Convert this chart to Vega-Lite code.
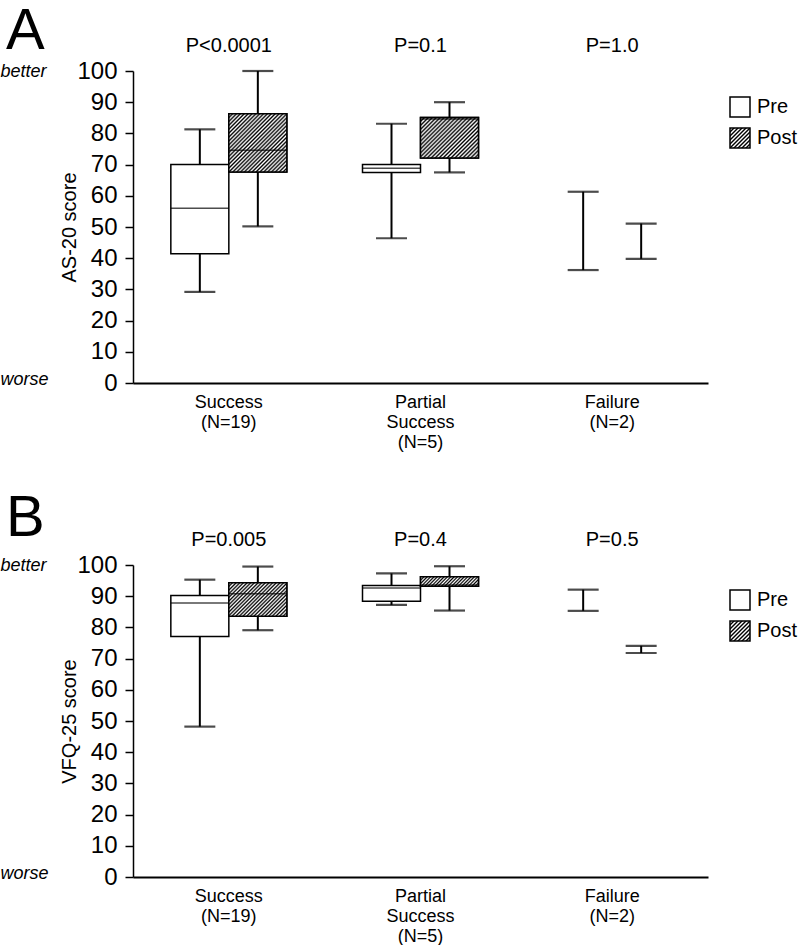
{
"$schema": "https://vega.github.io/schema/vega-lite/v6.json",
"padding": {"top": 2, "left": 0, "right": 0, "bottom": 0},
"background": "white",
"datasets": {
"a": [
{"group":"Success","phase":"Pre","low":29.2,"q1":41.4,"median":56,"q3":70,"high":81.3},
{"group":"Success","phase":"Post","low":50.2,"q1":67.6,"median":74.6,"q3":86.3,"high":100},
{"group":"Partial Success","phase":"Pre","low":46.4,"q1":67.5,"median":68.8,"q3":70.0,"high":83.1},
{"group":"Partial Success","phase":"Post","low":67.5,"q1":72.1,"median":84.6,"q3":85.1,"high":90},
{"group":"Failure","phase":"Pre","low":36.2,"q1":null,"median":null,"q3":null,"high":61.3},
{"group":"Failure","phase":"Post","low":39.8,"q1":null,"median":null,"q3":null,"high":51.1}
],
"b": [
{"group":"Success","phase":"Pre","low":48.2,"q1":77.1,"median":87.8,"q3":90.2,"high":95.3},
{"group":"Success","phase":"Post","low":79.1,"q1":83.6,"median":90.8,"q3":94.3,"high":99.5},
{"group":"Partial Success","phase":"Pre","low":87.2,"q1":88.4,"median":92.6,"q3":93.4,"high":97.3},
{"group":"Partial Success","phase":"Post","low":85.4,"q1":93.2,"median":93.6,"q3":96.2,"high":99.6},
{"group":"Failure","phase":"Pre","low":85.3,"q1":null,"median":null,"q3":null,"high":92.1},
{"group":"Failure","phase":"Post","low":71.8,"q1":null,"median":null,"q3":null,"high":74.1}
],
"pa": [{"group":"Success","p":"P<0.0001"},{"group":"Partial Success","p":"P=0.1"},{"group":"Failure","p":"P=1.0"}],
"pb": [{"group":"Success","p":"P=0.005"},{"group":"Partial Success","p":"P=0.4"},{"group":"Failure","p":"P=0.5"}]
},
"vconcat": [
{
"width": 575, "height": 312,
"title": {"text":"A","fontSize":58,"fontWeight":"normal","anchor":"start","frame":"bounds","dx":6,"offset":-25,"color":"black","font":"Liberation Sans"},
"encoding": {"x": {"field":"group","type":"nominal","scale":{"domain":["Success","Partial Success","Failure"],"paddingInner":0,"paddingOuter":0},
 "axis":{"title":null,"ticks":false,"labelAngle":0,"labelFontSize":18,"labelLineHeight":20,"labelPadding":10,"domainWidth":2,"labelExpr":"datum.value === 'Success' ? ['Success','(N=19)'] : datum.value === 'Partial Success' ? ['Partial','Success','(N=5)'] : ['Failure','(N=2)']"}}},
"layer": [
{"data":{"name":"a"},
 "encoding": {"xOffset": {"field":"phase","type":"nominal","scale":{"domain":["Pre","Post"],"paddingInner":0,"paddingOuter":0.6523}}},
 "layer": [
  {"mark":{"type":"rule","color":"black","strokeWidth":2},
   "encoding":{"y":{"field":"low","type":"quantitative","title":"AS-20 score","scale":{"domain":[0,100],"nice":false},
     "axis":{"orient":"left","values":[0,10,20,30,40,50,60,70,80,90,100],"tickCount":12,"labelOverlap":false,"labelFontSize":24,"tickSize":8,"tickWidth":1.5,"domainWidth":1.5,"labelPadding":8,"titleFontSize":20,"titlePadding":-3,"grid":false}},
     "y2":{"field":"high"}}},
  {"mark":{"type":"tick","color":"black","size":31,"thickness":2.2},
   "encoding":{"y":{"field":"low","type":"quantitative","title":"AS-20 score","scale":{"domain":[0,100],"nice":false}}}},
  {"mark":{"type":"tick","color":"black","size":31,"thickness":2.2},
   "encoding":{"y":{"field":"high","type":"quantitative","title":"AS-20 score","scale":{"domain":[0,100],"nice":false}}}},
  {"mark":{"type":"bar","stroke":"black","strokeWidth":1.5},
   "encoding":{"y":{"field":"q1","type":"quantitative","title":"AS-20 score","scale":{"domain":[0,100],"nice":false}},"y2":{"field":"q3"},
    "fill":{"field":"phase","type":"nominal","scale":{"domain":["Pre","Post"],"range":["white",{"expr":"{gradient: 'linear', x1: 0, y1: 0, x2: 1, y2: 1, stops: [{offset: 0, color: '#000'}, {offset: 0.05, color: '#fff'}, {offset: 0.1, color: '#000'}, {offset: 0.15, color: '#fff'}, {offset: 0.2, color: '#000'}, {offset: 0.25, color: '#fff'}, {offset: 0.3, color: '#000'}, {offset: 0.35, color: '#fff'}, {offset: 0.4, color: '#000'}, {offset: 0.45, color: '#fff'}, {offset: 0.5, color: '#000'}, {offset: 0.55, color: '#fff'}, {offset: 0.6, color: '#000'}, {offset: 0.65, color: '#fff'}, {offset: 0.7, color: '#000'}, {offset: 0.75, color: '#fff'}, {offset: 0.8, color: '#000'}, {offset: 0.85, color: '#fff'}, {offset: 0.9, color: '#000'}, {offset: 0.95, color: '#fff'}, {offset: 1, color: '#000'}]}"}]},
     "legend":{"title":null,"orient":"none","legendX":596,"legendY":25,"symbolType":"square","symbolSize":400,"symbolStrokeColor":"black","symbolStrokeWidth":1.5,"symbolOpacity":1,"labelFontSize":20,"labelColor":"black","labelOffset":6,"rowPadding":5,"labelFont":"Liberation Sans"}}}},
  {"transform":[{"filter":"datum.group === 'Success' && datum.phase === 'Post'"}],
   "mark":{"type":"bar","stroke":"black","strokeWidth":1.5,"fill":{"gradient":"linear","x1":0,"y1":0,"x2":1,"y2":1,"stops":[{"offset":0,"color":"#000"},{"offset":0.0167,"color":"#fff"},{"offset":0.0333,"color":"#000"},{"offset":0.05,"color":"#fff"},{"offset":0.0667,"color":"#000"},{"offset":0.0833,"color":"#fff"},{"offset":0.1,"color":"#000"},{"offset":0.1167,"color":"#fff"},{"offset":0.1333,"color":"#000"},{"offset":0.15,"color":"#fff"},{"offset":0.1667,"color":"#000"},{"offset":0.1833,"color":"#fff"},{"offset":0.2,"color":"#000"},{"offset":0.2167,"color":"#fff"},{"offset":0.2333,"color":"#000"},{"offset":0.25,"color":"#fff"},{"offset":0.2667,"color":"#000"},{"offset":0.2833,"color":"#fff"},{"offset":0.3,"color":"#000"},{"offset":0.3167,"color":"#fff"},{"offset":0.3333,"color":"#000"},{"offset":0.35,"color":"#fff"},{"offset":0.3667,"color":"#000"},{"offset":0.3833,"color":"#fff"},{"offset":0.4,"color":"#000"},{"offset":0.4167,"color":"#fff"},{"offset":0.4333,"color":"#000"},{"offset":0.45,"color":"#fff"},{"offset":0.4667,"color":"#000"},{"offset":0.4833,"color":"#fff"},{"offset":0.5,"color":"#000"},{"offset":0.5167,"color":"#fff"},{"offset":0.5333,"color":"#000"},{"offset":0.55,"color":"#fff"},{"offset":0.5667,"color":"#000"},{"offset":0.5833,"color":"#fff"},{"offset":0.6,"color":"#000"},{"offset":0.6167,"color":"#fff"},{"offset":0.6333,"color":"#000"},{"offset":0.65,"color":"#fff"},{"offset":0.6667,"color":"#000"},{"offset":0.6833,"color":"#fff"},{"offset":0.7,"color":"#000"},{"offset":0.7167,"color":"#fff"},{"offset":0.7333,"color":"#000"},{"offset":0.75,"color":"#fff"},{"offset":0.7667,"color":"#000"},{"offset":0.7833,"color":"#fff"},{"offset":0.8,"color":"#000"},{"offset":0.8167,"color":"#fff"},{"offset":0.8333,"color":"#000"},{"offset":0.85,"color":"#fff"},{"offset":0.8667,"color":"#000"},{"offset":0.8833,"color":"#fff"},{"offset":0.9,"color":"#000"},{"offset":0.9167,"color":"#fff"},{"offset":0.9333,"color":"#000"},{"offset":0.95,"color":"#fff"},{"offset":0.9667,"color":"#000"},{"offset":0.9833,"color":"#fff"},{"offset":1,"color":"#000"}]}},
   "encoding":{"y":{"field":"q1","type":"quantitative","title":"AS-20 score","scale":{"domain":[0,100],"nice":false}},"y2":{"field":"q3"}}},
  {"transform":[{"filter":"datum.group === 'Partial Success' && datum.phase === 'Post'"}],
   "mark":{"type":"bar","stroke":"black","strokeWidth":1.5,"fill":{"gradient":"linear","x1":0,"y1":0,"x2":1.141,"y2":0.799,"stops":[{"offset":0,"color":"#000"},{"offset":0.02,"color":"#fff"},{"offset":0.04,"color":"#000"},{"offset":0.06,"color":"#fff"},{"offset":0.08,"color":"#000"},{"offset":0.1,"color":"#fff"},{"offset":0.12,"color":"#000"},{"offset":0.14,"color":"#fff"},{"offset":0.16,"color":"#000"},{"offset":0.18,"color":"#fff"},{"offset":0.2,"color":"#000"},{"offset":0.22,"color":"#fff"},{"offset":0.24,"color":"#000"},{"offset":0.26,"color":"#fff"},{"offset":0.28,"color":"#000"},{"offset":0.3,"color":"#fff"},{"offset":0.32,"color":"#000"},{"offset":0.34,"color":"#fff"},{"offset":0.36,"color":"#000"},{"offset":0.38,"color":"#fff"},{"offset":0.4,"color":"#000"},{"offset":0.42,"color":"#fff"},{"offset":0.44,"color":"#000"},{"offset":0.46,"color":"#fff"},{"offset":0.48,"color":"#000"},{"offset":0.5,"color":"#fff"},{"offset":0.52,"color":"#000"},{"offset":0.54,"color":"#fff"},{"offset":0.56,"color":"#000"},{"offset":0.58,"color":"#fff"},{"offset":0.6,"color":"#000"},{"offset":0.62,"color":"#fff"},{"offset":0.64,"color":"#000"},{"offset":0.66,"color":"#fff"},{"offset":0.68,"color":"#000"},{"offset":0.7,"color":"#fff"},{"offset":0.72,"color":"#000"},{"offset":0.74,"color":"#fff"},{"offset":0.76,"color":"#000"},{"offset":0.78,"color":"#fff"},{"offset":0.8,"color":"#000"},{"offset":0.82,"color":"#fff"},{"offset":0.84,"color":"#000"},{"offset":0.86,"color":"#fff"},{"offset":0.88,"color":"#000"},{"offset":0.9,"color":"#fff"},{"offset":0.92,"color":"#000"},{"offset":0.94,"color":"#fff"},{"offset":0.96,"color":"#000"},{"offset":0.98,"color":"#fff"},{"offset":1,"color":"#000"}]}},
   "encoding":{"y":{"field":"q1","type":"quantitative","title":"AS-20 score","scale":{"domain":[0,100],"nice":false}},"y2":{"field":"q3"}}},
  {"mark":{"type":"tick","color":"black","size":58,"thickness":1.5},
   "encoding":{"y":{"field":"median","type":"quantitative","title":"AS-20 score","scale":{"domain":[0,100],"nice":false}}}}
 ]},
{"data":{"name":"pa"},
 "mark":{"type":"text","fontSize":20,"baseline":"alphabetic","color":"black","font":"Liberation Sans"},
 "encoding":{"text":{"field":"p"},
  "y":{"datum":106.2,"type":"quantitative","scale":{"domain":[0,100],"nice":false},
   "axis":{"orient":"left","offset":133,"values":[1.2,100],"labelExpr":"datum.value > 50 ? 'better' : 'worse'","labelFontStyle":"italic","labelFontSize":18,"labelAlign":"left","labelBaseline":"middle","domain":false,"ticks":false,"tickSize":0,"labelPadding":0,"title":null,"grid":false}}}}
],
"resolve": {"scale": {"y": "independent"}}
},
{
"width": 575, "height": 312,
"title": {"text":"B","fontSize":58,"fontWeight":"normal","anchor":"start","frame":"bounds","dx":6,"offset":-18,"color":"black","font":"Liberation Sans"},
"encoding": {"x": {"field":"group","type":"nominal","scale":{"domain":["Success","Partial Success","Failure"],"paddingInner":0,"paddingOuter":0},
 "axis":{"title":null,"ticks":false,"labelAngle":0,"labelFontSize":18,"labelLineHeight":20,"labelPadding":10,"domainWidth":2,"labelExpr":"datum.value === 'Success' ? ['Success','(N=19)'] : datum.value === 'Partial Success' ? ['Partial','Success','(N=5)'] : ['Failure','(N=2)']"}}},
"layer": [
{"data":{"name":"b"},
 "encoding": {"xOffset": {"field":"phase","type":"nominal","scale":{"domain":["Pre","Post"],"paddingInner":0,"paddingOuter":0.6523}}},
 "layer": [
  {"mark":{"type":"rule","color":"black","strokeWidth":2},
   "encoding":{"y":{"field":"low","type":"quantitative","title":"VFQ-25 score","scale":{"domain":[0,100],"nice":false},
     "axis":{"orient":"left","values":[0,10,20,30,40,50,60,70,80,90,100],"tickCount":12,"labelOverlap":false,"labelFontSize":24,"tickSize":8,"tickWidth":1.5,"domainWidth":1.5,"labelPadding":8,"titleFontSize":20,"titlePadding":-3,"grid":false}},
     "y2":{"field":"high"}}},
  {"mark":{"type":"tick","color":"black","size":31,"thickness":2.2},
   "encoding":{"y":{"field":"low","type":"quantitative","title":"VFQ-25 score","scale":{"domain":[0,100],"nice":false}}}},
  {"mark":{"type":"tick","color":"black","size":31,"thickness":2.2},
   "encoding":{"y":{"field":"high","type":"quantitative","title":"VFQ-25 score","scale":{"domain":[0,100],"nice":false}}}},
  {"mark":{"type":"bar","stroke":"black","strokeWidth":1.5},
   "encoding":{"y":{"field":"q1","type":"quantitative","title":"VFQ-25 score","scale":{"domain":[0,100],"nice":false}},"y2":{"field":"q3"},
    "fill":{"field":"phase","type":"nominal","scale":{"domain":["Pre","Post"],"range":["white",{"expr":"{gradient: 'linear', x1: 0, y1: 0, x2: 1, y2: 1, stops: [{offset: 0, color: '#000'}, {offset: 0.05, color: '#fff'}, {offset: 0.1, color: '#000'}, {offset: 0.15, color: '#fff'}, {offset: 0.2, color: '#000'}, {offset: 0.25, color: '#fff'}, {offset: 0.3, color: '#000'}, {offset: 0.35, color: '#fff'}, {offset: 0.4, color: '#000'}, {offset: 0.45, color: '#fff'}, {offset: 0.5, color: '#000'}, {offset: 0.55, color: '#fff'}, {offset: 0.6, color: '#000'}, {offset: 0.65, color: '#fff'}, {offset: 0.7, color: '#000'}, {offset: 0.75, color: '#fff'}, {offset: 0.8, color: '#000'}, {offset: 0.85, color: '#fff'}, {offset: 0.9, color: '#000'}, {offset: 0.95, color: '#fff'}, {offset: 1, color: '#000'}]}"}]},
     "legend":{"title":null,"orient":"none","legendX":596,"legendY":24,"symbolType":"square","symbolSize":400,"symbolStrokeColor":"black","symbolStrokeWidth":1.5,"symbolOpacity":1,"labelFontSize":20,"labelColor":"black","labelOffset":6,"rowPadding":5,"labelFont":"Liberation Sans"}}}},
  {"transform":[{"filter":"datum.group === 'Success' && datum.phase === 'Post'"}],
   "mark":{"type":"bar","stroke":"black","strokeWidth":1.5,"fill":{"gradient":"linear","x1":0,"y1":0,"x2":1.184,"y2":0.68,"stops":[{"offset":0,"color":"#000"},{"offset":0.02,"color":"#fff"},{"offset":0.04,"color":"#000"},{"offset":0.06,"color":"#fff"},{"offset":0.08,"color":"#000"},{"offset":0.1,"color":"#fff"},{"offset":0.12,"color":"#000"},{"offset":0.14,"color":"#fff"},{"offset":0.16,"color":"#000"},{"offset":0.18,"color":"#fff"},{"offset":0.2,"color":"#000"},{"offset":0.22,"color":"#fff"},{"offset":0.24,"color":"#000"},{"offset":0.26,"color":"#fff"},{"offset":0.28,"color":"#000"},{"offset":0.3,"color":"#fff"},{"offset":0.32,"color":"#000"},{"offset":0.34,"color":"#fff"},{"offset":0.36,"color":"#000"},{"offset":0.38,"color":"#fff"},{"offset":0.4,"color":"#000"},{"offset":0.42,"color":"#fff"},{"offset":0.44,"color":"#000"},{"offset":0.46,"color":"#fff"},{"offset":0.48,"color":"#000"},{"offset":0.5,"color":"#fff"},{"offset":0.52,"color":"#000"},{"offset":0.54,"color":"#fff"},{"offset":0.56,"color":"#000"},{"offset":0.58,"color":"#fff"},{"offset":0.6,"color":"#000"},{"offset":0.62,"color":"#fff"},{"offset":0.64,"color":"#000"},{"offset":0.66,"color":"#fff"},{"offset":0.68,"color":"#000"},{"offset":0.7,"color":"#fff"},{"offset":0.72,"color":"#000"},{"offset":0.74,"color":"#fff"},{"offset":0.76,"color":"#000"},{"offset":0.78,"color":"#fff"},{"offset":0.8,"color":"#000"},{"offset":0.82,"color":"#fff"},{"offset":0.84,"color":"#000"},{"offset":0.86,"color":"#fff"},{"offset":0.88,"color":"#000"},{"offset":0.9,"color":"#fff"},{"offset":0.92,"color":"#000"},{"offset":0.94,"color":"#fff"},{"offset":0.96,"color":"#000"},{"offset":0.98,"color":"#fff"},{"offset":1,"color":"#000"}]}},
   "encoding":{"y":{"field":"q1","type":"quantitative","title":"VFQ-25 score","scale":{"domain":[0,100],"nice":false}},"y2":{"field":"q3"}}},
  {"transform":[{"filter":"datum.group === 'Partial Success' && datum.phase === 'Post'"}],
   "mark":{"type":"bar","stroke":"black","strokeWidth":1.5,"fill":{"gradient":"linear","x1":0,"y1":0,"x2":1.131,"y2":0.181,"stops":[{"offset":0,"color":"#000"},{"offset":0.025,"color":"#fff"},{"offset":0.05,"color":"#000"},{"offset":0.075,"color":"#fff"},{"offset":0.1,"color":"#000"},{"offset":0.125,"color":"#fff"},{"offset":0.15,"color":"#000"},{"offset":0.175,"color":"#fff"},{"offset":0.2,"color":"#000"},{"offset":0.225,"color":"#fff"},{"offset":0.25,"color":"#000"},{"offset":0.275,"color":"#fff"},{"offset":0.3,"color":"#000"},{"offset":0.325,"color":"#fff"},{"offset":0.35,"color":"#000"},{"offset":0.375,"color":"#fff"},{"offset":0.4,"color":"#000"},{"offset":0.425,"color":"#fff"},{"offset":0.45,"color":"#000"},{"offset":0.475,"color":"#fff"},{"offset":0.5,"color":"#000"},{"offset":0.525,"color":"#fff"},{"offset":0.55,"color":"#000"},{"offset":0.575,"color":"#fff"},{"offset":0.6,"color":"#000"},{"offset":0.625,"color":"#fff"},{"offset":0.65,"color":"#000"},{"offset":0.675,"color":"#fff"},{"offset":0.7,"color":"#000"},{"offset":0.725,"color":"#fff"},{"offset":0.75,"color":"#000"},{"offset":0.775,"color":"#fff"},{"offset":0.8,"color":"#000"},{"offset":0.825,"color":"#fff"},{"offset":0.85,"color":"#000"},{"offset":0.875,"color":"#fff"},{"offset":0.9,"color":"#000"},{"offset":0.925,"color":"#fff"},{"offset":0.95,"color":"#000"},{"offset":0.975,"color":"#fff"},{"offset":1,"color":"#000"}]}},
   "encoding":{"y":{"field":"q1","type":"quantitative","title":"VFQ-25 score","scale":{"domain":[0,100],"nice":false}},"y2":{"field":"q3"}}},
  {"mark":{"type":"tick","color":"black","size":58,"thickness":1.5},
   "encoding":{"y":{"field":"median","type":"quantitative","title":"VFQ-25 score","scale":{"domain":[0,100],"nice":false}}}}
 ]},
{"data":{"name":"pb"},
 "mark":{"type":"text","fontSize":20,"baseline":"alphabetic","color":"black","font":"Liberation Sans"},
 "encoding":{"text":{"field":"p"},
  "y":{"datum":106.2,"type":"quantitative","scale":{"domain":[0,100],"nice":false},
   "axis":{"orient":"left","offset":133,"values":[1.2,100],"labelExpr":"datum.value > 50 ? 'better' : 'worse'","labelFontStyle":"italic","labelFontSize":18,"labelAlign":"left","labelBaseline":"middle","domain":false,"ticks":false,"tickSize":0,"labelPadding":0,"title":null,"grid":false}}}}
],
"resolve": {"scale": {"y": "independent"}}
}
],
"spacing": 38,
"resolve": {"scale": {"fill": "independent"}},
"config": {
 "font": "Liberation Sans",
 "view": {"stroke": null},
 "axis": {"domainColor":"black","tickColor":"black","labelColor":"black","titleColor":"black","titleFontWeight":"normal","grid":false,"labelFont":"Liberation Sans","titleFont":"Liberation Sans"},
 "title": {"color":"black"}
}
}
